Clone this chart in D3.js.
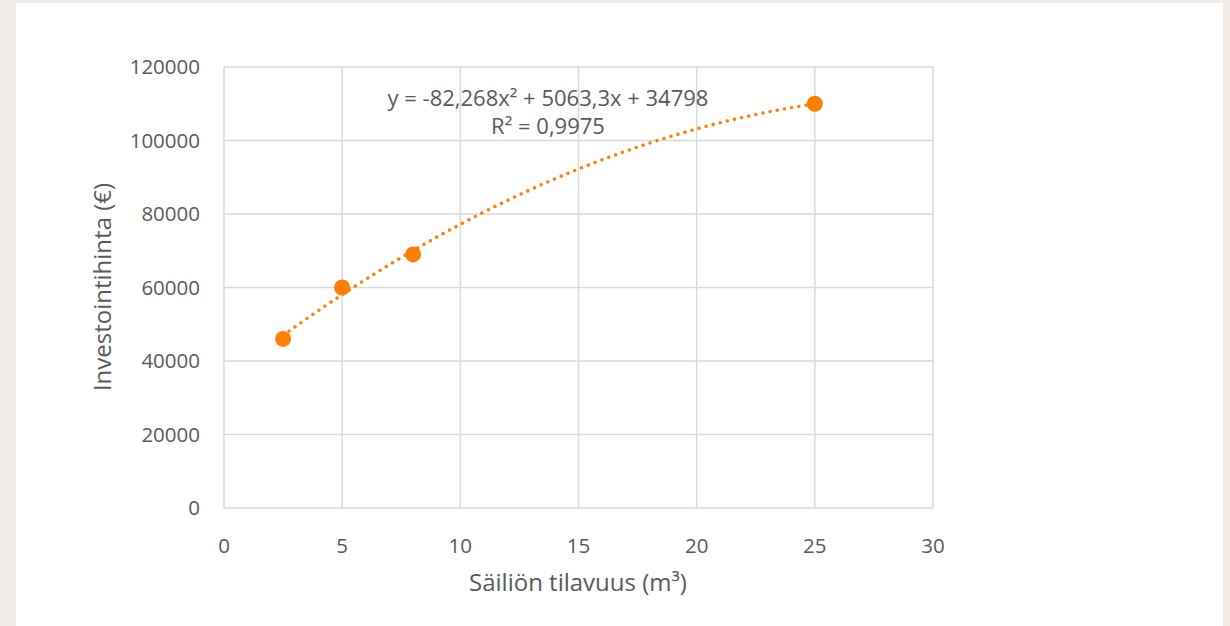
<!DOCTYPE html>
<html><head><meta charset="utf-8">
<script src="https://cdn.jsdelivr.net/npm/d3@7"></script>
<style>
html,body{margin:0;padding:0;background:#f2eee7;}
svg{display:block;}
text{font-family:"Open Sans",sans-serif;fill:#595959;}
</style></head><body>
<svg id="c" width="1230" height="626"></svg>
<script>
const volumes = [2.5, 5, 8, 25];
const prices = [46000, 60000, 69000, 110000];
const xTicks = [0, 5, 10, 15, 20, 25, 30];
const yTicks = [0, 20000, 40000, 60000, 80000, 100000, 120000];
const coef = [-82.268, 5063.3, 34798];
const eqLines = ["y = -82,268x² + 5063,3x + 34798", "R² = 0,9975"];
const xTitle = "Säiliön tilavuus (m³)";
const yTitle = "Investointihinta (€)";

const svg = d3.select("#c");
svg.append("rect").attr("x",16).attr("y",3).attr("width",1207).attr("height",623).attr("fill","#fff");

const x = d3.scaleLinear().domain([0,30]).range([224,933]);
const y = d3.scaleLinear().domain([0,120000]).range([508,67]);
const grid = "#d9d9d9";

svg.append("g").selectAll("line").data(xTicks).join("line")
  .attr("x1",d=>x(d)).attr("x2",d=>x(d)).attr("y1",y(0)).attr("y2",y(120000))
  .attr("stroke",grid).attr("stroke-width",1.5);
svg.append("g").selectAll("line").data(yTicks).join("line")
  .attr("x1",x(0)).attr("x2",x(30)).attr("y1",d=>y(d)).attr("y2",d=>y(d))
  .attr("stroke",grid).attr("stroke-width",1.5);

svg.append("g").selectAll("text").data(xTicks).join("text")
  .attr("x",d=>x(d)).attr("y",553).attr("text-anchor","middle")
  .attr("font-size",20.5).text(d=>d);
svg.append("g").selectAll("text").data(yTicks).join("text")
  .attr("x",200).attr("y",d=>y(d)+7).attr("text-anchor","end")
  .attr("font-size",20.5).text(d=>d);

svg.append("text").attr("x",578).attr("y",591).attr("text-anchor","middle")
  .attr("font-size",24).text(xTitle);
svg.append("text").attr("transform","translate(111,287) rotate(-90)").attr("text-anchor","middle")
  .attr("font-size",24).text(yTitle);

// trendline
const f = v => coef[0]*v*v + coef[1]*v + coef[2];
const xs = d3.range(2.5, 25.001, 0.25);
svg.append("path").datum(xs)
  .attr("d", d3.line().x(d=>x(d)).y(d=>y(f(d))).curve(d3.curveMonotoneX))
  .attr("fill","none").attr("stroke","#ff8000").attr("stroke-width",3.4)
  .attr("stroke-dasharray","0.1 7.2").attr("stroke-linecap","round");

svg.append("g").selectAll("circle").data(volumes).join("circle")
  .attr("cx",d=>x(d)).attr("cy",(d,i)=>y(prices[i])).attr("r",8)
  .attr("fill","#ff8000");

svg.append("g").selectAll("text").data(eqLines).join("text")
  .attr("x",548).attr("y",(d,i)=>106+i*28).attr("text-anchor","middle")
  .attr("font-size",22).text(d=>d);
</script></body></html>
